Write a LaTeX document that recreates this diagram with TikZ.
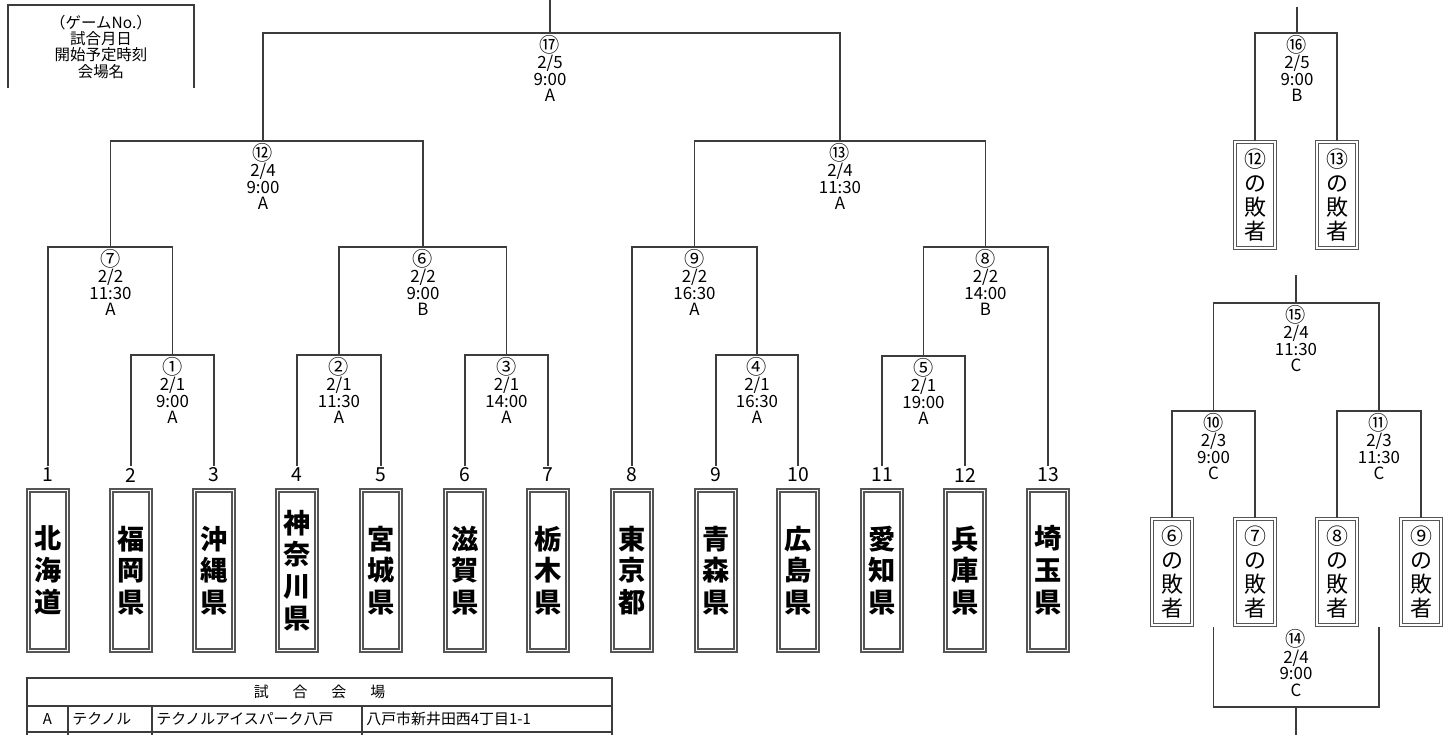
\documentclass[tikz,border=0pt]{standalone}
\usepackage{fontspec}
\setmainfont{Noto Sans CJK JP}
\usepackage{tikz}
\usetikzlibrary{positioning}
\usepackage{xcolor}
\definecolor{brkline}{HTML}{3C3C3C}
\definecolor{boxline}{HTML}{555555}
\newcommand\gno[1]{{\fontsize{11.5}{9.4}\selectfont #1}}

\begin{document}
\begin{tikzpicture}[x=0.02cm, y=-0.02cm,
  brk/.style={draw=brkline, line width=0.8pt},
  tbl/.style={draw=brkline, line width=0.6pt},
  team/.style={draw=boxline, double, double distance=1.1pt, line width=0.7pt,
               minimum width=0.78cm, minimum height=3.2cm, inner sep=0pt,
               align=center, font=\fontsize{15.5}{18.1}\selectfont\bfseries},
  loser/.style={team, minimum width=0.8cm, minimum height=2.12cm,
                font=\fontsize{12.5}{13.6}\selectfont},
  num/.style={font=\fontsize{11}{11}\selectfont, inner sep=1pt},
  mlab/.style={anchor=north, yshift=-1pt, inner sep=0pt, align=center,
               font=\fontsize{9.6}{9.4}\selectfont},
  tbltxt/.style={inner sep=0pt, font=\fontsize{8.5}{9}\selectfont},
]
  \useasboundingbox (0,0) rectangle (1449,735);

  % Legend
  \draw[brk] (8,88) -- (8,5) -- (194,5) -- (194,88);
  \node[mlab, anchor=center, yshift=0pt, font=\fontsize{8.8}{9.3}\selectfont] (lgd) at (101,45)
    {（ゲームNo.）\\試合月日\\開始予定時刻\\会場名};

  % Teams
  \node[team] (t1) at (48,570.5) {北\\海\\道};
  \node[team] (t2) at (131,570.5) {福\\岡\\県};
  \node[team] (t3) at (214,570.5) {沖\\縄\\県};
  \node[team] (t4) at (297,570.5) {神\\奈\\川\\県};
  \node[team] (t5) at (381,570.5) {宮\\城\\県};
  \node[team] (t6) at (465,570.5) {滋\\賀\\県};
  \node[team] (t7) at (548,570.5) {栃\\木\\県};
  \node[team] (t8) at (632,570.5) {東\\京\\都};
  \node[team] (t9) at (716,570.5) {青\\森\\県};
  \node[team] (t10) at (798,570.5) {広\\島\\県};
  \node[team] (t11) at (882,570.5) {愛\\知\\県};
  \node[team] (t12) at (965,570.5) {兵\\庫\\県};
  \node[team] (t13) at (1048,570.5) {埼\\玉\\県};

  \node[num] (n1) at (48,475) {1};
  \node[num] (n2) at (131,475) {2};
  \node[num] (n3) at (214,475) {3};
  \node[num] (n4) at (297,475) {4};
  \node[num] (n5) at (381,475) {5};
  \node[num] (n6) at (465,475) {6};
  \node[num] (n7) at (548,475) {7};
  \node[num] (n8) at (632,475) {8};
  \node[num] (n9) at (716,475) {9};
  \node[num] (n10) at (798,475) {10};
  \node[num] (n11) at (882,475) {11};
  \node[num] (n12) at (965,475) {12};
  \node[num] (n13) at (1048,475) {13};

  % Match points
  \coordinate (m1) at (172.5,355);
  \coordinate (m2) at (339,355);
  \coordinate (m3) at (506.5,355);
  \coordinate (m4) at (757,355);
  \coordinate (m5) at (923.5,356);
  \coordinate (m6) at (423,247);
  \coordinate (m7) at (110.5,247);
  \coordinate (m8) at (985.5,247);
  \coordinate (m9) at (694.5,247);
  \coordinate (m12) at (263,141);
  \coordinate (m13) at (840,141);
  \coordinate (m17) at (550,33);
  \coordinate (top17) at (550,0);

  % Main bracket
  \draw[brk] (n2.north) |- (m1) -| (n3.north);
  \draw[brk] (n4.north) |- (m2) -| (n5.north);
  \draw[brk] (n6.north) |- (m3) -| (n7.north);
  \draw[brk] (n9.north) |- (m4) -| (n10.north);
  \draw[brk] (n11.north) |- (m5) -| (n12.north);
  \draw[brk] (n1.north) |- (m7) -| (m1);
  \draw[brk] (m2) |- (m6) -| (m3);
  \draw[brk] (n8.north) |- (m9) -| (m4);
  \draw[brk] (m5) |- (m8) -| (n13.north);
  \draw[brk] (m7) |- (m12) -| (m6);
  \draw[brk] (m9) |- (m13) -| (m8);
  \draw[brk] (m12) |- (m17) -| (m13);
  \draw[brk] (m17) -- (top17);

  \node[mlab] (g1) at (m1) {\gno{①}\\2/1\\9:00\\A};
  \node[mlab] (g2) at (m2) {\gno{②}\\2/1\\11:30\\A};
  \node[mlab] (g3) at (m3) {\gno{③}\\2/1\\14:00\\A};
  \node[mlab] (g4) at (m4) {\gno{④}\\2/1\\16:30\\A};
  \node[mlab] (g5) at (m5) {\gno{⑤}\\2/1\\19:00\\A};
  \node[mlab] (g6) at (m6) {\gno{⑥}\\2/2\\9:00\\B};
  \node[mlab] (g7) at (m7) {\gno{⑦}\\2/2\\11:30\\A};
  \node[mlab] (g8) at (m8) {\gno{⑧}\\2/2\\14:00\\B};
  \node[mlab] (g9) at (m9) {\gno{⑨}\\2/2\\16:30\\A};
  \node[mlab] (g12) at (m12) {\gno{⑫}\\2/4\\9:00\\A};
  \node[mlab] (g13) at (m13) {\gno{⑬}\\2/4\\11:30\\A};
  \node[mlab] (g17) at (m17) {\gno{⑰}\\2/5\\9:00\\A};

  % Losers, third place
  \node[loser] (l12) at (1255,195) {⑫\\の\\敗\\者};
  \node[loser] (l13) at (1337,195) {⑬\\の\\敗\\者};
  \coordinate (m16) at (1297,33);
  \coordinate (top16) at (1297,7);
  \draw[brk] (l12.north) |- (m16) -| (l13.north);
  \draw[brk] (m16) -- (top16);
  \node[mlab] (g16) at (m16) {\gno{⑯}\\2/5\\9:00\\B};

  % Losers, consolation
  \node[loser] (l6) at (1172,572) {⑥\\の\\敗\\者};
  \node[loser] (l7) at (1255,572) {⑦\\の\\敗\\者};
  \node[loser] (l8) at (1337,572) {⑧\\の\\敗\\者};
  \node[loser] (l9) at (1421,572) {⑨\\の\\敗\\者};
  \coordinate (m10) at (1213.5,411);
  \coordinate (m11) at (1379,411);
  \coordinate (m15) at (1296,303);
  \coordinate (top15) at (1296,275);
  \coordinate (m14) at (1296,707);
  \coordinate (bot14) at (1296,735);
  \coordinate (in14a) at (1213.5,627);
  \coordinate (in14b) at (1379,627);
  \draw[brk] (l6.north) |- (m10) -| (l7.north);
  \draw[brk] (l8.north) |- (m11) -| (l9.north);
  \draw[brk] (m10) |- (m15) -| (m11);
  \draw[brk] (m15) -- (top15);
  \draw[brk] (in14a) |- (m14) -| (in14b);
  \draw[brk] (m14) -- (bot14);
  \node[mlab] (g10) at (m10) {\gno{⑩}\\2/3\\9:00\\C};
  \node[mlab] (g11) at (m11) {\gno{⑪}\\2/3\\11:30\\C};
  \node[mlab] (g15) at (m15) {\gno{⑮}\\2/4\\11:30\\C};
  \node[mlab, anchor=south, yshift=0pt] (g14) at (1296,695) {\gno{⑭}\\2/4\\9:00\\C};

  % Venues
  \draw[tbl] (27,735) -- (27,678) -- (612,678) -- (612,735);
  \draw[tbl] (27,706) -- (612,706);
  \draw[tbl] (27,732) -- (612,732);
  \draw[tbl] (68,706) -- (68,735);
  \draw[tbl] (152,706) -- (152,735);
  \draw[tbl] (362,706) -- (362,735);
  \node[tbltxt] (vhead) at (319.5,692) {試\hspace{1.6em}合\hspace{1.6em}会\hspace{1.6em}場};
  \node[tbltxt] (vA) at (47.5,719) {A};
  \node[tbltxt, anchor=west] (vshort) at (72,719) {テクノル};
  \node[tbltxt, anchor=west] (vname) at (156,719) {テクノルアイスパーク八戸};
  \node[tbltxt, anchor=west] (vaddr) at (366,719) {八戸市新井田西4丁目1-1};
\end{tikzpicture}
\end{document}
